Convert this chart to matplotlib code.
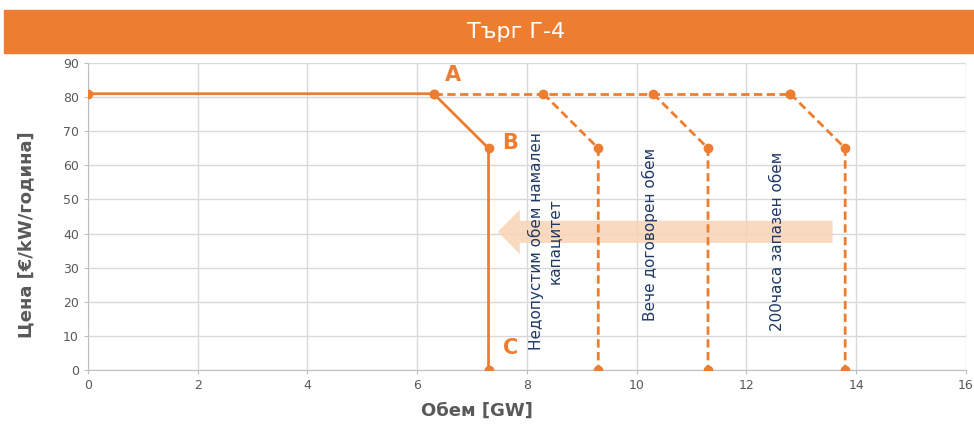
import matplotlib
matplotlib.use("Agg")
import matplotlib.pyplot as plt
from matplotlib.patches import FancyArrow, Rectangle

plt.rcParams.update({
    "font.family": ["DejaVu Sans"],
})

ORANGE = "#ED7D31"
NAVY = "#1F3864"
GREY = "#595959"

# data
solid_x = [0, 6.3, 7.3, 7.3]
solid_y = [81, 81, 65, 0]

dash_top_x = [6.3, 12.8]
dash_top_y = [81, 81]

# each dashed branch: start of slope at price 81, then down to 65 and to 0
step_x = [[8.3, 9.3, 9.3], [10.3, 11.3, 11.3], [12.8, 13.8, 13.8]]
step_y = [81, 65, 0]

point_labels = ["A", "B", "C"]
label_pos = [(6.65, 86.5), (7.7, 66.5), (7.7, 6.5)]

notes = ["Недопустим обем намален\nкапацитет", "Вече договорен обем", "200часа запазен обем"]
note_x = [8.33, 10.24, 12.57]
note_y = [37.8, 39.6, 37.8]

x_ticks = list(range(0, 17, 2))
y_ticks = list(range(0, 91, 10))

fig = plt.figure(figsize=(9.74, 4.29), dpi=100)

# title banner
fig.patches.append(Rectangle((4 / 974, 0.8765), 970 / 974, 0.1,
                             transform=fig.transFigure, color=ORANGE, zorder=0))
fig.text(0.53, 0.926, "Търг Г-4", color="white", fontsize=16,
         ha="center", va="center")

ax = fig.add_axes([0.0903, 0.1375, 0.9014, 0.7156])

# background arrow (volume shift)
ax.add_patch(FancyArrow(13.57, 40.5, -6.1, 0, width=6.5, head_width=13,
                        head_length=0.4, length_includes_head=True,
                        color="#F9D3B5", alpha=0.85, lw=0, zorder=1))

ax.plot(dash_top_x, dash_top_y, color=ORANGE, lw=2, ls=(0, (3, 1.6)),
        marker="o", ms=6, zorder=3)
for xs in step_x:
    ax.plot(xs, step_y, color=ORANGE, lw=2, ls=(0, (3, 1.6)),
            marker="o", ms=6, zorder=3)

ax.plot(solid_x, solid_y, color=ORANGE, lw=2, marker="o", ms=6, zorder=4)

for lab, (lx, ly) in zip(point_labels, label_pos):
    ax.text(lx, ly, lab, color=ORANGE, fontsize=15, fontweight="bold",
            ha="center", va="center")

for txt, nx, ny in zip(notes, note_x, note_y):
    ax.text(nx, ny, txt, color=NAVY, fontsize=11, rotation=90,
            ha="center", va="center", multialignment="center", zorder=5)

ax.set_xlim(0, 16)
ax.set_ylim(0, 90)
ax.set_xticks(x_ticks)
ax.set_yticks(y_ticks)
ax.grid(True, color="#D9D9D9", lw=1)
ax.set_axisbelow(True)
for s in ["top", "right"]:
    ax.spines[s].set_visible(False)
for s in ["left", "bottom"]:
    ax.spines[s].set_color("#BFBFBF")
ax.tick_params(colors=GREY, labelsize=9, length=3, color="#BFBFBF")

ax.set_xlabel("Обем [GW]", fontsize=13, fontweight="bold", color=GREY)
ax.set_ylabel("Цена [€/kW/година]", fontsize=13, fontweight="bold", color=GREY)
ax.xaxis.set_label_coords(0.443, -0.105)
ax.yaxis.set_label_coords(-0.06, 0.44)

fig.savefig("out.png", dpi=100)
